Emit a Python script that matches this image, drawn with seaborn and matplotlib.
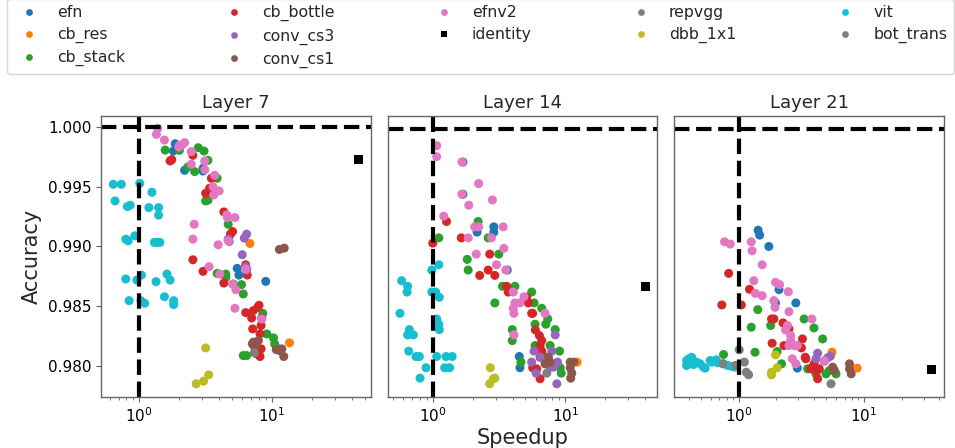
import matplotlib
matplotlib.use("Agg")
import matplotlib.pyplot as plt
import matplotlib.ticker as mticker
import seaborn as sns
import pandas as pd

# ─── Data ─────────────────────────────────────────────
MODELS = ["efn", "cb_res", "cb_stack", "cb_bottle", "conv_cs3", "conv_cs1",
          "efnv2", "identity", "repvgg", "dbb_1x1", "vit", "bot_trans"]
COLORS = ["#1f77b4", "#ff7f0e", "#2ca02c", "#d62728", "#9467bd", "#8c564b",
          "#e377c2", "black", "#7f7f7f", "#bcbd22", "#17becf", "#7f7f7f"]
LAYERS = ["Layer 7", "Layer 14", "Layer 21"]
BASELINE_ACC = [1.0, 0.99978, 0.99983]
Y_TICKS = [0.980, 0.985, 0.990, 0.995, 1.000]

# (model, speedup, accuracy)
LAYER7 = [
    ("efn", 1.87, 0.99858), ("efn", 1.81, 0.99797), ("efn", 2.20, 0.99636), ("efn", 3.03, 0.99653),
    ("efn", 3.03, 0.99630), ("efn", 5.48, 0.98816), ("efn", 5.65, 0.98760), ("efn", 9.00, 0.98707),
    ("cb_res", 6.84, 0.99024), ("cb_res", 13.6, 0.98193),
    ("cb_stack", 1.57, 0.99805), ("cb_stack", 2.01, 0.99803), ("cb_stack", 2.33, 0.99664),
    ("cb_stack", 2.62, 0.99625), ("cb_stack", 2.79, 0.99825), ("cb_stack", 3.08, 0.99797),
    ("cb_stack", 3.30, 0.99719), ("cb_stack", 3.87, 0.99569), ("cb_stack", 3.17, 0.99380),
    ("cb_stack", 3.30, 0.99386), ("cb_stack", 4.69, 0.99185), ("cb_stack", 3.87, 0.98774),
    ("cb_stack", 4.50, 0.98768), ("cb_stack", 4.50, 0.98741), ("cb_stack", 5.12, 0.98685),
    ("cb_stack", 5.91, 0.98680), ("cb_stack", 6.09, 0.98602), ("cb_stack", 8.55, 0.98440),
    ("cb_stack", 9.16, 0.98268), ("cb_stack", 10.3, 0.98235), ("cb_stack", 10.5, 0.98185),
    ("cb_stack", 10.9, 0.98151), ("cb_stack", 6.09, 0.98087), ("cb_stack", 6.46, 0.98087),
    ("cb_bottle", 1.71, 0.99714), ("cb_bottle", 1.76, 0.99725), ("cb_bottle", 2.54, 0.99761),
    ("cb_bottle", 3.50, 0.99569), ("cb_bottle", 3.40, 0.99486), ("cb_bottle", 3.17, 0.99444),
    ("cb_bottle", 3.44, 0.99477), ("cb_bottle", 4.35, 0.99288), ("cb_bottle", 5.06, 0.99124),
    ("cb_bottle", 4.88, 0.99102), ("cb_bottle", 4.71, 0.99052), ("cb_bottle", 2.54, 0.98888),
    ("cb_bottle", 3.03, 0.98791), ("cb_bottle", 4.35, 0.98693), ("cb_bottle", 6.35, 0.98846),
    ("cb_bottle", 6.46, 0.98810), ("cb_bottle", 6.53, 0.98760), ("cb_bottle", 8.01, 0.98507),
    ("cb_bottle", 7.83, 0.98490), ("cb_bottle", 7.26, 0.98463), ("cb_bottle", 6.35, 0.98446),
    ("cb_bottle", 7.05, 0.98401), ("cb_bottle", 8.40, 0.98401), ("cb_bottle", 8.30, 0.98338),
    ("cb_bottle", 7.17, 0.98310), ("cb_bottle", 8.15, 0.98268), ("cb_bottle", 8.30, 0.98143),
    ("cb_bottle", 8.15, 0.98079), ("cb_bottle", 7.69, 0.98101),
    ("conv_cs3", 4.69, 0.99060), ("conv_cs3", 4.77, 0.99041), ("conv_cs3", 6.46, 0.99102),
    ("conv_cs3", 6.20, 0.99069), ("conv_cs3", 5.98, 0.98930), ("conv_cs3", 6.35, 0.98830),
    ("conv_cs3", 6.46, 0.98802),
    ("conv_cs1", 11.4, 0.98974), ("conv_cs1", 12.4, 0.98985), ("conv_cs1", 7.26, 0.98199),
    ("conv_cs1", 7.34, 0.98171), ("conv_cs1", 7.47, 0.98151), ("conv_cs1", 7.13, 0.98185),
    ("conv_cs1", 10.8, 0.98137), ("conv_cs1", 11.4, 0.98129), ("conv_cs1", 12.3, 0.98079),
    ("conv_cs1", 11.9, 0.98143), ("conv_cs1", 7.92, 0.98212),
    ("efnv2", 1.38, 0.99986), ("efnv2", 1.35, 0.99936), ("efnv2", 1.55, 0.99889), ("efnv2", 2.01, 0.99844),
    ("efnv2", 2.13, 0.99853), ("efnv2", 2.20, 0.99867), ("efnv2", 1.99, 0.99830), ("efnv2", 2.47, 0.99792),
    ("efnv2", 2.47, 0.99686), ("efnv2", 3.12, 0.99714), ("efnv2", 3.13, 0.99641), ("efnv2", 3.71, 0.99594),
    ("efnv2", 3.61, 0.99497), ("efnv2", 3.65, 0.99430), ("efnv2", 4.01, 0.99463), ("efnv2", 4.58, 0.99263),
    ("efnv2", 4.63, 0.99241), ("efnv2", 5.27, 0.99241), ("efnv2", 2.60, 0.99185), ("efnv2", 2.54, 0.99060),
    ("efnv2", 3.94, 0.99013), ("efnv2", 4.69, 0.99046), ("efnv2", 3.36, 0.98830), ("efnv2", 4.05, 0.98768),
    ("efnv2", 5.06, 0.98685), ("efnv2", 5.36, 0.98638), ("efnv2", 5.27, 0.98482), ("efnv2", 8.40, 0.98393),
    ("efnv2", 6.35, 0.98810),
    ("repvgg", 7.38, 0.98110),
    ("dbb_1x1", 3.17, 0.98151), ("dbb_1x1", 2.69, 0.97851), ("dbb_1x1", 3.06, 0.97873), ("dbb_1x1", 3.34, 0.97926),
    ("vit", 0.638, 0.99519), ("vit", 0.734, 0.99519), ("vit", 1.01, 0.99527), ("vit", 0.658, 0.99380),
    ("vit", 0.815, 0.99333), ("vit", 0.855, 0.99344), ("vit", 1.248, 0.99452), ("vit", 1.184, 0.99324),
    ("vit", 1.40, 0.99324), ("vit", 1.40, 0.99261), ("vit", 0.792, 0.99060), ("vit", 0.825, 0.99046),
    ("vit", 0.927, 0.99088), ("vit", 1.30, 0.99033), ("vit", 1.36, 0.99033), ("vit", 1.43, 0.99033),
    ("vit", 0.792, 0.98727), ("vit", 0.96, 0.98718), ("vit", 1.04, 0.98760), ("vit", 1.34, 0.98705),
    ("vit", 1.62, 0.98768), ("vit", 1.71, 0.98718), ("vit", 0.84, 0.98546), ("vit", 1.03, 0.98546),
    ("vit", 1.10, 0.98524), ("vit", 1.55, 0.98579), ("vit", 1.82, 0.98546), ("vit", 1.82, 0.98513),
    ("identity", 45.0, 0.99730),
]

LAYER14 = [
    ("efn", 1.69, 0.99705), ("efn", 1.69, 0.99436), ("efn", 2.16, 0.99119), ("efn", 2.89, 0.99163),
    ("efn", 2.89, 0.99119), ("efn", 3.65, 0.98802), ("efn", 4.50, 0.98079), ("efn", 4.55, 0.97985),
    ("cb_res", 12.3, 0.98032),
    ("cb_stack", 1.11, 0.99071), ("cb_stack", 2.20, 0.99208), ("cb_stack", 2.62, 0.99071),
    ("cb_stack", 3.15, 0.98935), ("cb_stack", 1.82, 0.98891), ("cb_stack", 1.85, 0.98802),
    ("cb_stack", 3.36, 0.98666), ("cb_stack", 4.17, 0.98666), ("cb_stack", 5.58, 0.98618),
    ("cb_stack", 5.82, 0.98527), ("cb_stack", 2.94, 0.98527), ("cb_stack", 6.65, 0.98482),
    ("cb_stack", 7.38, 0.98393), ("cb_stack", 5.92, 0.98349), ("cb_stack", 7.13, 0.98349),
    ("cb_stack", 8.40, 0.98304), ("cb_stack", 3.98, 0.98304), ("cb_stack", 3.98, 0.98212),
    ("cb_stack", 5.92, 0.98171), ("cb_stack", 7.69, 0.98171), ("cb_stack", 9.06, 0.98124),
    ("cb_stack", 4.63, 0.98032), ("cb_stack", 9.16, 0.97985), ("cb_stack", 9.33, 0.97940),
    ("cb_stack", 6.93, 0.98079),
    ("cb_bottle", 1.27, 0.99208), ("cb_bottle", 1.00, 0.99027), ("cb_bottle", 1.64, 0.99071),
    ("cb_bottle", 2.69, 0.98935), ("cb_bottle", 2.26, 0.98757), ("cb_bottle", 2.62, 0.98802),
    ("cb_bottle", 2.94, 0.98757), ("cb_bottle", 3.61, 0.98666), ("cb_bottle", 3.71, 0.98618),
    ("cb_bottle", 5.12, 0.98574), ("cb_bottle", 5.27, 0.98527), ("cb_bottle", 5.58, 0.98440),
    ("cb_bottle", 5.68, 0.98440), ("cb_bottle", 5.95, 0.98301), ("cb_bottle", 6.38, 0.98254),
    ("cb_bottle", 6.65, 0.98212), ("cb_bottle", 6.46, 0.98171), ("cb_bottle", 6.65, 0.98124),
    ("cb_bottle", 6.46, 0.98073), ("cb_bottle", 5.68, 0.97985), ("cb_bottle", 6.46, 0.97893),
    ("cb_bottle", 6.09, 0.97976),
    ("conv_cs3", 8.40, 0.98260), ("conv_cs3", 7.92, 0.98124), ("conv_cs3", 5.82, 0.98124),
    ("conv_cs3", 5.58, 0.98032), ("conv_cs3", 6.02, 0.97940), ("conv_cs3", 8.75, 0.98032),
    ("conv_cs3", 8.64, 0.97851), ("conv_cs3", 8.15, 0.97990), ("conv_cs3", 7.69, 0.97990),
    ("conv_cs3", 6.53, 0.98073),
    ("conv_cs1", 7.47, 0.98073), ("conv_cs1", 7.05, 0.98018), ("conv_cs1", 10.9, 0.98032),
    ("conv_cs1", 11.6, 0.98032), ("conv_cs1", 10.9, 0.97985), ("conv_cs1", 11.2, 0.97940),
    ("conv_cs1", 11.0, 0.97898), ("conv_cs1", 7.69, 0.98032),
    ("efnv2", 1.07, 0.99842), ("efnv2", 1.07, 0.99750), ("efnv2", 1.66, 0.99705), ("efnv2", 1.66, 0.99436),
    ("efnv2", 2.22, 0.99525), ("efnv2", 2.82, 0.99388), ("efnv2", 1.87, 0.99344), ("efnv2", 1.21, 0.99252),
    ("efnv2", 2.07, 0.99163), ("efnv2", 2.22, 0.99163), ("efnv2", 3.40, 0.99163), ("efnv2", 1.85, 0.99071),
    ("efnv2", 2.77, 0.99071), ("efnv2", 2.13, 0.98935), ("efnv2", 3.03, 0.98846), ("efnv2", 3.44, 0.98983),
    ("efnv2", 3.56, 0.98802), ("efnv2", 4.05, 0.98618), ("efnv2", 4.88, 0.98579), ("efnv2", 4.17, 0.98527),
    ("efnv2", 4.05, 0.98482), ("efnv2", 4.10, 0.98440), ("efnv2", 4.55, 0.98527), ("efnv2", 7.05, 0.98440),
    ("efnv2", 4.10, 0.98260),
    ("repvgg", 7.26, 0.97940),
    ("dbb_1x1", 2.72, 0.97985), ("dbb_1x1", 2.94, 0.97898), ("dbb_1x1", 2.86, 0.97893), ("dbb_1x1", 2.69, 0.97851),
    ("vit", 0.582, 0.98713), ("vit", 0.646, 0.98666), ("vit", 0.639, 0.98618), ("vit", 0.983, 0.98802),
    ("vit", 1.11, 0.98846), ("vit", 0.983, 0.98618), ("vit", 1.05, 0.98618), ("vit", 1.12, 0.98574),
    ("vit", 0.565, 0.98440), ("vit", 1.07, 0.98393), ("vit", 1.11, 0.98349), ("vit", 1.12, 0.98304),
    ("vit", 0.665, 0.98304), ("vit", 0.646, 0.98260), ("vit", 0.713, 0.98260), ("vit", 0.657, 0.98124),
    ("vit", 0.747, 0.98079), ("vit", 0.792, 0.98079), ("vit", 1.07, 0.98079), ("vit", 1.26, 0.98079),
    ("vit", 1.40, 0.98079), ("vit", 1.23, 0.97985), ("vit", 1.34, 0.97985), ("vit", 0.889, 0.97985),
    ("vit", 0.801, 0.97898),
    ("identity", 40.1, 0.98666),
]

LAYER21 = [
    ("efn", 1.43, 0.99135), ("efn", 1.47, 0.99094), ("efn", 1.74, 0.98999), ("efn", 2.10, 0.98638),
    ("efn", 1.97, 0.98527), ("efn", 2.86, 0.98527), ("efn", 2.94, 0.97982),
    ("cb_res", 5.56, 0.98115), ("cb_res", 8.84, 0.97982),
    ("cb_stack", 1.42, 0.98471), ("cb_stack", 1.26, 0.98324), ("cb_stack", 0.757, 0.98096),
    ("cb_stack", 1.35, 0.98115), ("cb_stack", 3.33, 0.98393), ("cb_stack", 3.99, 0.98318),
    ("cb_stack", 4.68, 0.98226), ("cb_stack", 1.80, 0.98338), ("cb_stack", 2.03, 0.98121),
    ("cb_stack", 2.20, 0.98018), ("cb_stack", 3.55, 0.97976), ("cb_stack", 5.70, 0.97976),
    ("cb_stack", 5.99, 0.97934), ("cb_stack", 5.30, 0.97962), ("cb_stack", 4.98, 0.97934),
    ("cb_stack", 4.14, 0.97934),
    ("cb_bottle", 0.832, 0.98774), ("cb_bottle", 0.734, 0.98510), ("cb_bottle", 1.05, 0.98510),
    ("cb_bottle", 1.22, 0.98641), ("cb_bottle", 1.83, 0.98393), ("cb_bottle", 1.91, 0.98393),
    ("cb_bottle", 2.26, 0.98360), ("cb_bottle", 2.52, 0.98310), ("cb_bottle", 1.85, 0.98190),
    ("cb_bottle", 2.30, 0.98171), ("cb_bottle", 3.23, 0.98226), ("cb_bottle", 3.17, 0.98151),
    ("cb_bottle", 3.40, 0.98073), ("cb_bottle", 3.44, 0.98060), ("cb_bottle", 3.89, 0.97990),
    ("cb_bottle", 4.14, 0.97962), ("cb_bottle", 4.27, 0.97893), ("cb_bottle", 3.77, 0.97976),
    ("cb_bottle", 4.40, 0.97976), ("cb_bottle", 4.01, 0.98018),
    ("conv_cs3", 4.27, 0.98107), ("conv_cs3", 5.40, 0.98082), ("conv_cs3", 5.13, 0.98068),
    ("conv_cs3", 4.83, 0.98040), ("conv_cs3", 4.14, 0.98060),
    ("conv_cs1", 7.67, 0.98018), ("conv_cs1", 7.91, 0.97934), ("conv_cs1", 5.63, 0.97990),
    ("conv_cs1", 5.81, 0.97962), ("conv_cs1", 7.67, 0.97976),
    ("efnv2", 0.771, 0.99038), ("efnv2", 0.857, 0.99019), ("efnv2", 1.26, 0.99038), ("efnv2", 1.28, 0.98963),
    ("efnv2", 1.54, 0.98846), ("efnv2", 1.32, 0.98713), ("efnv2", 1.36, 0.98607), ("efnv2", 1.54, 0.98588),
    ("efnv2", 1.97, 0.98699), ("efnv2", 2.12, 0.98680), ("efnv2", 2.49, 0.98621), ("efnv2", 1.91, 0.98546),
    ("efnv2", 1.95, 0.98490), ("efnv2", 2.52, 0.98454), ("efnv2", 2.45, 0.98338), ("efnv2", 2.37, 0.98301),
    ("efnv2", 2.60, 0.98254), ("efnv2", 2.60, 0.98212), ("efnv2", 2.52, 0.98171), ("efnv2", 2.77, 0.98171),
    ("efnv2", 2.94, 0.98171), ("efnv2", 2.68, 0.98060), ("efnv2", 2.86, 0.98018), ("efnv2", 3.84, 0.98393),
    ("efnv2", 4.83, 0.98046),
    ("repvgg", 5.46, 0.97851),
    ("dbb_1x1", 1.97, 0.98093), ("dbb_1x1", 2.03, 0.97985), ("dbb_1x1", 1.83, 0.97948), ("dbb_1x1", 1.83, 0.97926),
    ("vit", 0.384, 0.98046), ("vit", 0.401, 0.98060), ("vit", 0.421, 0.98073), ("vit", 0.462, 0.98032),
    ("vit", 0.492, 0.98018), ("vit", 0.523, 0.97990), ("vit", 0.540, 0.97982), ("vit", 0.610, 0.98032),
    ("vit", 0.661, 0.98051), ("vit", 0.682, 0.98026), ("vit", 0.757, 0.98018), ("vit", 0.820, 0.98004),
    ("vit", 0.884, 0.97996), ("vit", 0.940, 0.97990), ("vit", 0.384, 0.98004), ("vit", 0.435, 0.98012),
    ("vit", 0.592, 0.98046),
    ("bot_trans", 0.748, 0.98018), ("bot_trans", 1.01, 0.98135), ("bot_trans", 1.11, 0.98032),
    ("bot_trans", 1.15, 0.97948), ("bot_trans", 1.20, 0.97926), ("bot_trans", 0.940, 0.98004),
    ("identity", 34.8, 0.97968),
]

# ─── Style ─────────────────────────────────────────────
sns.set_theme(style="ticks", context="notebook")
plt.rcParams.update({
    "font.family": ["DejaVu Sans"],
    "axes.edgecolor": "0.4",
    "axes.linewidth": 1.0,
    "xtick.color": "0.4",
    "ytick.color": "0.4",
    "xtick.labelcolor": "black",
    "ytick.labelcolor": "black",
    "xtick.labelsize": 11,
    "ytick.labelsize": 11,
    "xtick.major.size": 3.5,
    "ytick.major.size": 3.5,
    "xtick.minor.size": 2,
    "xtick.major.width": 0.8,
    "ytick.major.width": 0.8,
    "xtick.minor.width": 0.6,
    "xtick.major.pad": 3.5,
    "ytick.major.pad": 3.5,
})

frames = []
for name, rows in zip(LAYERS, [LAYER7, LAYER14, LAYER21]):
    part = pd.DataFrame(rows, columns=["model", "speedup", "accuracy"])
    part["layer"] = name
    frames.append(part)
df = pd.concat(frames, ignore_index=True)

palette = dict(zip(MODELS, COLORS))
markers = {m: ("s" if m == "identity" else "o") for m in MODELS}

fig, axes = plt.subplots(1, 3, figsize=(9.55, 4.48), dpi=100, sharey=True)
fig.subplots_adjust(left=0.1058, right=0.9885, top=0.7411, bottom=0.1145, wspace=0.063)

for i, (ax, name, base) in enumerate(zip(axes, LAYERS, BASELINE_ACC)):
    sub = df[df["layer"] == name]
    ax.set_xscale("log")
    sns.scatterplot(
        data=sub, x="speedup", y="accuracy",
        hue="model", style="model",
        hue_order=MODELS, style_order=MODELS,
        palette=palette, markers=markers,
        s=42, linewidth=0, ax=ax,
        legend=(i == 2),
    )
    ax.axvline(1, color="black", linestyle="--", linewidth=3)
    ax.axhline(base, color="black", linestyle="--", linewidth=3)
    ax.set_title(name, fontsize=13)
    ax.set_xlabel("")
    ax.set_ylabel("")
    if i > 0:
        ax.tick_params(axis="y", which="both", left=False)

axes[0].set_ylim(0.97743, 1.0009)
axes[0].set_yticks(Y_TICKS)
axes[0].yaxis.set_major_formatter(mticker.FormatStrFormatter("%.3f"))
axes[0].set_ylabel("Accuracy", fontsize=15)
axes[1].set_xlabel("Speedup", fontsize=15, labelpad=2)

leg = axes[2].get_legend()
handles = leg.legend_handles
labels = [t.get_text() for t in leg.get_texts()]
leg.remove()

fig.legend(
    handles, labels,
    ncol=5, loc="upper left",
    bbox_to_anchor=(7 / 955, 1 + 1 / 448),
    borderaxespad=0, fontsize=11.3,
    markerscale=0.75, labelspacing=0.44,
    handlelength=2.0, handletextpad=0.8,
    columnspacing=5.93, frameon=True,
)

fig.savefig("out.png", dpi=100)
